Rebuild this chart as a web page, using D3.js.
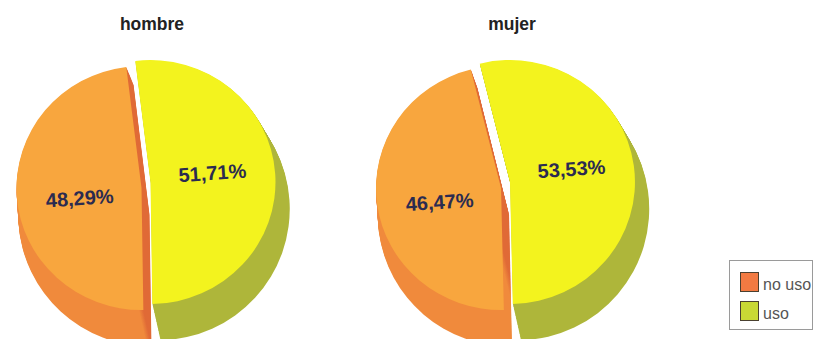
<!DOCTYPE html>
<html>
<head>
<meta charset="utf-8">
<script src="https://cdn.jsdelivr.net/npm/d3@7"></script>
<style>
  html, body { margin: 0; padding: 0; background: #ffffff; }
  svg { display: block; }
</style>
</head>
<body>
<svg id="chart" width="814" height="339"></svg>
<script>
// ---- data ----
const groups = ["hombre", "mujer"];
const categories = ["uso", "no uso"];          // drawn clockwise from the top
const hombreValues = [51.71, 48.29];
const mujerValues = [53.53, 46.47];
const legendCategories = ["no uso", "uso"];

// ---- styles ----
const faceColors = { "uso": "#f3f31e", "no uso": "#f8a63e" };
const sideColors = { "uso": "#aeb63a", "no uso": "#f08a3c" };
const edgeColors = { "uso": "#aeb63a", "no uso": "#e06a36" };
const legendColors = { "no uso": "#f27a42", "uso": "#c9d935" };

const svg = d3.select("#chart");
const defs = svg.append("defs");

const R = 125, RY = 122;          // front face radii (x, y)
const backShift = [8, 27];        // back face offset
const backScale = [0.05, 0.075];  // back face growth
const steps = 24;

const layout = {
  hombre: { cx: 146, cy: 185, start: -7, titleX: 152 },
  mujer:  { cx: 505.5, cy: 185, start: -14, titleX: 512 }
};
const valuesByGroup = { hombre: hombreValues, mujer: mujerValues };

const fmt = v => d3.format(".2f")(v).replace(".", ",") + "%";
const toRad = d => d * Math.PI / 180;

const arc = d3.arc().innerRadius(0).outerRadius(R);

groups.forEach((gname, gi) => {
  const cfg = layout[gname];
  const values = valuesByGroup[gname];
  const pie = d3.pie().sort(null)
    .startAngle(toRad(cfg.start))
    .endAngle(toRad(cfg.start) + 2 * Math.PI);
  const arcs = pie(values);
  const g = svg.append("g");

  const centers = arcs.map(a => {
    const mid = (a.startAngle + a.endAngle) / 2;
    return [cfg.cx + Math.sin(mid) * 4.5, cfg.cy - Math.sin(mid) * 3];
  });

  // side gradients: darker band along the cut edge (end edge of each slice)
  const sideFill = arcs.map((a, i) => {
    const cat = categories[i];
    const e = a.endAngle;                          // cut edge at top
    const nx = -Math.cos(e), ny = -Math.sin(e);    // normal pointing into slice
    const id = `side-${gi}-${i}`;
    const lgd = defs.append("linearGradient")
      .attr("id", id)
      .attr("gradientUnits", "userSpaceOnUse")
      .attr("x1", 0).attr("y1", 0)
      .attr("x2", nx * 30).attr("y2", ny * 30);
    lgd.append("stop").attr("offset", 0).attr("stop-color", edgeColors[cat]);
    lgd.append("stop").attr("offset", 0.45).attr("stop-color", edgeColors[cat]);
    lgd.append("stop").attr("offset", 0.6).attr("stop-color", sideColors[cat]);
    lgd.append("stop").attr("offset", 1).attr("stop-color", sideColors[cat]);
    return `url(#${id})`;
  });

  // sides (extrusion towards the back face)
  arcs.forEach((a, i) => {
    for (let k = steps; k >= 1; k--) {
      const t = k / steps;
      const x = centers[i][0] + backShift[0] * t;
      const y = centers[i][1] + backShift[1] * t;
      const sx = 1 + backScale[0] * t;
      const sy = (1 + backScale[1] * t) * RY / R;
      g.append("path")
        .attr("d", arc(a))
        .attr("transform", `translate(${x},${y}) scale(${sx},${sy})`)
        .attr("fill", sideFill[i]);
    }
  });

  // faces
  arcs.forEach((a, i) => {
    const cat = categories[i];
    g.append("path")
      .attr("d", arc(a))
      .attr("transform", `translate(${centers[i][0]},${centers[i][1]}) scale(1,${RY / R})`)
      .attr("fill", faceColors[cat]);
  });

  // labels
  const labelR = 62;
  const labelLift = [-5, 6];
  arcs.forEach((a, i) => {
    const mid = (a.startAngle + a.endAngle) / 2;
    const x = centers[i][0] + Math.sin(mid) * labelR;
    const y = centers[i][1] - Math.cos(mid) * labelR * RY / R + labelLift[i];
    g.append("text")
      .attr("transform", `translate(${x},${y}) rotate(-4)`)
      .attr("text-anchor", "middle")
      .attr("dy", "0.35em")
      .attr("font-family", "Liberation Sans, Arial, sans-serif")
      .attr("font-weight", "bold")
      .attr("font-size", 20)
      .attr("fill", "#2b2b50")
      .text(fmt(values[i]));
  });

  // title
  svg.append("text")
    .attr("x", cfg.titleX)
    .attr("y", 30)
    .attr("text-anchor", "middle")
    .attr("font-family", "Liberation Sans, Arial, sans-serif")
    .attr("font-weight", "bold")
    .attr("font-size", 17.5)
    .attr("fill", "#222")
    .text(gname);
});

// legend
const lg = svg.append("g");
lg.append("rect")
  .attr("x", 729.5).attr("y", 260.5)
  .attr("width", 83).attr("height", 69)
  .attr("fill", "#fff").attr("stroke", "#9a9a9a").attr("stroke-width", 1);
legendCategories.forEach((c, i) => {
  const y0 = 272 + i * 29;
  lg.append("rect")
    .attr("x", 740.5).attr("y", y0 + 0.5)
    .attr("width", 18).attr("height", 19)
    .attr("fill", legendColors[c]).attr("stroke", "#4a4030").attr("stroke-width", 1);
  lg.append("text")
    .attr("x", 763).attr("y", y0 + 18)
    .attr("font-family", "Liberation Sans, Arial, sans-serif")
    .attr("font-size", 16)
    .attr("fill", "#555")
    .text(c);
});
</script>
</body>
</html>
